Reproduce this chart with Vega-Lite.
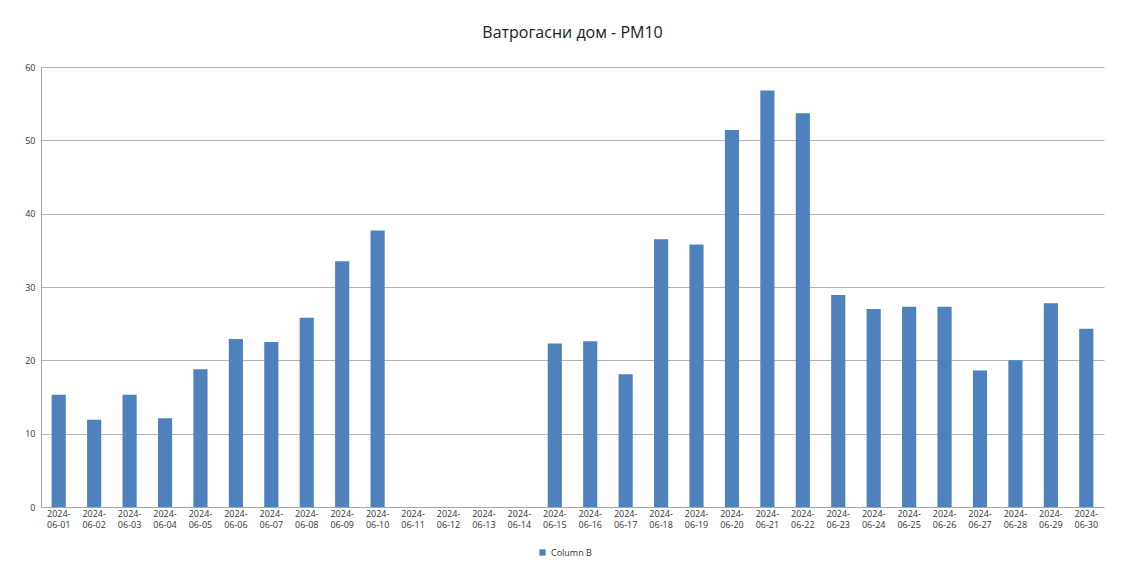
{
  "$schema": "https://vega.github.io/schema/vega-lite/v6.json",
  "width": 1063,
  "height": 440,
  "autosize": {"type": "none"},
  "padding": {"left": 41, "top": 67, "right": 17, "bottom": 59},
  "background": "white",
  "title": {
    "text": "Ватрогасни дом - PM10",
    "font": "Open Sans",
    "fontSize": 16,
    "fontWeight": "normal",
    "color": "#222222",
    "anchor": "middle",
    "offset": 22
  },
  "data": {
    "values": [
      {"date": "2024-06-01", "value": 15.3, "series": "Column B"},
      {"date": "2024-06-02", "value": 11.9, "series": "Column B"},
      {"date": "2024-06-03", "value": 15.3, "series": "Column B"},
      {"date": "2024-06-04", "value": 12.1, "series": "Column B"},
      {"date": "2024-06-05", "value": 18.8, "series": "Column B"},
      {"date": "2024-06-06", "value": 22.9, "series": "Column B"},
      {"date": "2024-06-07", "value": 22.5, "series": "Column B"},
      {"date": "2024-06-08", "value": 25.8, "series": "Column B"},
      {"date": "2024-06-09", "value": 33.5, "series": "Column B"},
      {"date": "2024-06-10", "value": 37.7, "series": "Column B"},
      {"date": "2024-06-11", "value": null, "series": "Column B"},
      {"date": "2024-06-12", "value": null, "series": "Column B"},
      {"date": "2024-06-13", "value": null, "series": "Column B"},
      {"date": "2024-06-14", "value": null, "series": "Column B"},
      {"date": "2024-06-15", "value": 22.3, "series": "Column B"},
      {"date": "2024-06-16", "value": 22.6, "series": "Column B"},
      {"date": "2024-06-17", "value": 18.1, "series": "Column B"},
      {"date": "2024-06-18", "value": 36.5, "series": "Column B"},
      {"date": "2024-06-19", "value": 35.8, "series": "Column B"},
      {"date": "2024-06-20", "value": 51.4, "series": "Column B"},
      {"date": "2024-06-21", "value": 56.8, "series": "Column B"},
      {"date": "2024-06-22", "value": 53.7, "series": "Column B"},
      {"date": "2024-06-23", "value": 28.9, "series": "Column B"},
      {"date": "2024-06-24", "value": 27.0, "series": "Column B"},
      {"date": "2024-06-25", "value": 27.3, "series": "Column B"},
      {"date": "2024-06-26", "value": 27.3, "series": "Column B"},
      {"date": "2024-06-27", "value": 18.6, "series": "Column B"},
      {"date": "2024-06-28", "value": 20.0, "series": "Column B"},
      {"date": "2024-06-29", "value": 27.8, "series": "Column B"},
      {"date": "2024-06-30", "value": 24.3, "series": "Column B"}
    ]
  },
  "mark": {"type": "bar"},
  "encoding": {
    "x": {
      "field": "date",
      "type": "ordinal",
      "sort": null,
      "scale": {
        "domain": ["2024-06-01","2024-06-02","2024-06-03","2024-06-04","2024-06-05","2024-06-06","2024-06-07","2024-06-08","2024-06-09","2024-06-10","2024-06-11","2024-06-12","2024-06-13","2024-06-14","2024-06-15","2024-06-16","2024-06-17","2024-06-18","2024-06-19","2024-06-20","2024-06-21","2024-06-22","2024-06-23","2024-06-24","2024-06-25","2024-06-26","2024-06-27","2024-06-28","2024-06-29","2024-06-30"],
        "paddingInner": 0.6,
        "paddingOuter": 0.3
      },
      "axis": {
        "title": null,
        "labelAngle": 0,
        "labelExpr": "[slice(datum.value, 0, 5), slice(datum.value, 5)]",
        "labelFont": "Open Sans",
        "labelFontSize": 9,
        "labelColor": "#333333",
        "labelPadding": 2,
        "labelLineHeight": 11,
        "ticks": false,
        "domainColor": "#a6a6a6",
        "grid": false
      }
    },
    "y": {
      "field": "value",
      "type": "quantitative",
      "scale": {"domain": [0, 60], "nice": false},
      "axis": {
        "title": null,
        "values": [0, 10, 20, 30, 40, 50, 60],
        "labelFont": "Open Sans",
        "labelFontSize": 9,
        "labelColor": "#333333",
        "labelPadding": 6,
        "ticks": false,
        "domainColor": "#a6a6a6",
        "gridColor": "#b3b3b3",
        "gridOpacity": 1
      }
    },
    "color": {
      "field": "series",
      "type": "nominal",
      "scale": {"range": ["#4F81BD"]},
      "legend": {
        "title": null,
        "orient": "none",
        "legendX": 497,
        "legendY": 481,
        "direction": "horizontal",
        "symbolType": "square",
        "symbolSize": 40,
        "labelFont": "Open Sans",
        "labelFontSize": 9,
        "labelColor": "#333333"
      }
    }
  },
  "config": {
    "view": {"stroke": null}
  }
}
